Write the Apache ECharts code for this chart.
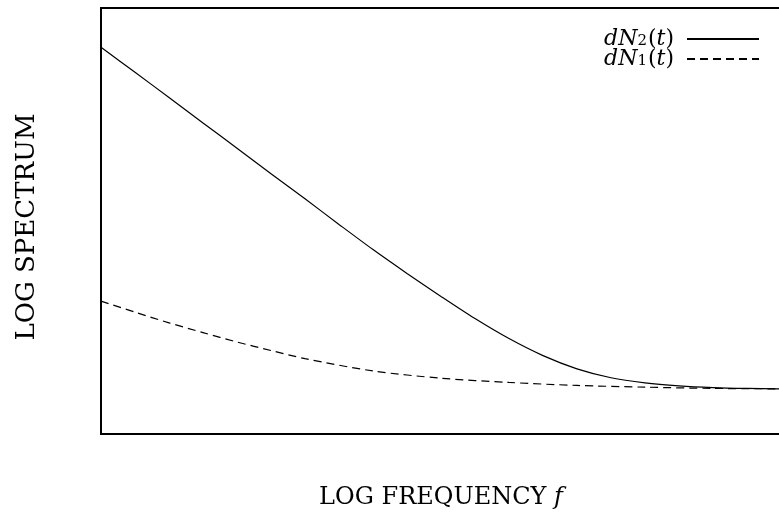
<!DOCTYPE html>
<html>
<head>
<meta charset="utf-8">
<script src="https://cdn.jsdelivr.net/npm/echarts@6/dist/echarts.min.js"></script>
<style>
html,body{margin:0;padding:0;background:#fff;}
#Charts{width:779px;height:515px;}
</style>
</head>
<body>
<div id="Charts"></div>
<script>
// log frequency positions (arbitrary units) and log spectrum values
var xSolid = [0, 0.5, 1, 1.5, 2, 2.5, 3, 3.5, 4, 4.5, 5, 5.5, 6, 6.5, 7, 7.5, 8, 8.5, 9, 9.5, 10]
var ySolid = [9.08, 8.49, 7.90, 7.30, 6.71, 6.11, 5.52, 4.92, 4.33, 3.77, 3.23, 2.71, 2.24, 1.84, 1.53, 1.32, 1.20, 1.13, 1.09, 1.07, 1.06]
var xDash = [0, 0.5, 1, 1.5, 2, 2.5, 3, 4, 5, 6, 7, 8, 9, 10]
var yDash = [3.12, 2.86, 2.61, 2.38, 2.16, 1.96, 1.77, 1.48, 1.31, 1.21, 1.14, 1.10, 1.07, 1.06]

function pairs(xs, ys){
	let out = []
	for (var i = 0; i < xs.length; i++) {
		out.push([xs[i], ys[i]])
	}
	return out
}

var chart = echarts.init(document.getElementById("Charts"));

var serif = '"DejaVu Serif", "Liberation Serif", serif'
var legRich = {
	i: {fontFamily: serif, fontStyle: 'italic', fontSize: 22, lineHeight: 20, color: '#000'},
	p: {fontFamily: serif, fontSize: 22, lineHeight: 20, color: '#000'},
	s: {fontFamily: serif, fontSize: 15, lineHeight: 20, color: '#000', verticalAlign: 'bottom', padding: [8, 1, 0, 0]}
}

var option = {
	backgroundColor: '#FFFFFF',
	animation: false,
	grid: {
		left: 101,
		right: -2,
		top: 8,
		bottom: 81,
		show: true,
		borderColor: '#000',
		borderWidth: 2,
		containLabel: false,
		outerBoundsMode: 'none'
	},
	legend: {
		orient: 'vertical',
		right: 19,
		top: 26,
		padding: 0,
		align: 'right',
		itemWidth: 72,
		itemHeight: 14,
		itemGap: -4,
		itemStyle: {opacity: 0},
		data: ['dN2', 'dN1'],
		formatter: function(name){
			return '{i|dN}{s|' + name.slice(2) + '}{p|(}{i|t}{p|)}'
		},
		textStyle: {rich: legRich, padding: [0, 8, 0, 0]}
	},
	xAxis: {
		type: 'value',
		min: 0,
		max: 10,
		name: '{u|LOG FREQUENCY }{f|f}',
		nameLocation: 'middle',
		nameGap: 52,
		nameTextStyle: {
			rich: {
				u: {fontFamily: serif, fontSize: 24, color: '#000'},
				f: {fontFamily: serif, fontSize: 24, fontStyle: 'italic', color: '#000'}
			}
		},
		axisLine: {show: false},
		axisTick: {show: false},
		axisLabel: {show: false},
		splitLine: {show: false}
	},
	yAxis: {
		type: 'value',
		min: 0,
		max: 10,
		name: 'LOG SPECTRUM',
		nameLocation: 'middle',
		nameGap: 61,
		nameTextStyle: {fontFamily: serif, fontSize: 26, color: '#000', padding: [0, 12, 0, 0]},
		axisLine: {show: false},
		axisTick: {show: false},
		axisLabel: {show: false},
		splitLine: {show: false}
	},
	series: [
		{
			name: 'dN2',
			type: 'line',
			smooth: 0.3,
			symbol: 'none',
			lineStyle: {color: '#000', width: 1.2, type: 'solid'},
			itemStyle: {color: '#000'},
			data: pairs(xSolid, ySolid)
		},
		{
			name: 'dN1',
			type: 'line',
			smooth: 0.3,
			symbol: 'none',
			lineStyle: {color: '#000', width: 1.2, type: [8, 5]},
			itemStyle: {color: '#000'},
			data: pairs(xDash, yDash)
		}
	]
};

chart.setOption(option);
</script>
</body>
</html>
